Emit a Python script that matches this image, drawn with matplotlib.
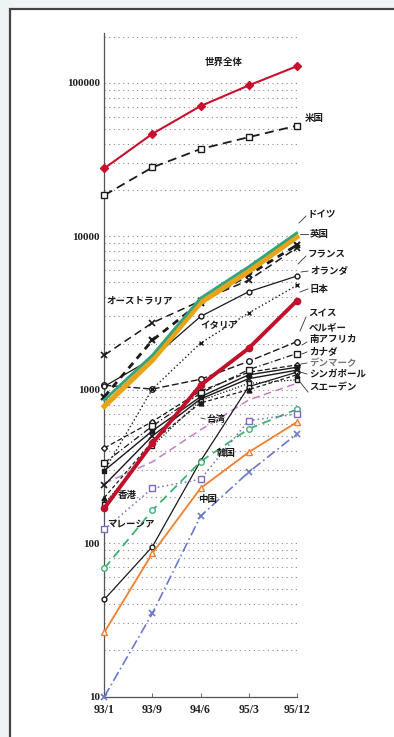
import matplotlib
matplotlib.use("Agg")
import matplotlib.pyplot as plt
from matplotlib.patches import Rectangle
from matplotlib.lines import Line2D
from matplotlib.ticker import FixedLocator, NullFormatter, LogLocator

plt.rcParams['font.family'] = ['Noto Sans CJK JP', 'DejaVu Sans']

# ---------------- data ----------------
periods = ['93/1', '93/9', '94/6', '95/3', '95/12']
world = [27700, 46500, 70500, 96000, 128000]
usa = [18500, 28100, 37000, 44200, 52500]
germany = [857, 1680, 3950, 6320, 10500]
uk = [780, 1560, 3690, 5900, 9900]
france = [900, 2100, 3700, 5600, 8750]
australia = [1680, 2730, 3790, 5170, 8400]
netherlands = [1050, 1600, 3000, 4350, 5500]
italy = [297, 1010, 2010, 3160, 4780]
japan = [169, 448, 1070, 1860, 3790]
switzerland = [1070, 1010, 1170, 1530, 2056]
belgium = [417, 620, 980, 1300, 1450]
canada = [333, 580, 950, 1350, 1720]
denmark = [297, 540, 900, 1250, 1400]
singapore = [239, 500, 870, 1180, 1340]
sweden = [180, 430, 850, 1100, 1160]
hongkong = [198, 460, 820, 1000, 1250]
taiwan = [245, 339, 548, 857, 1100]
korea = [43, 95, 343, 1047, 1300]
south_africa = [68.6, 164, 340, 555, 745]
malaysia = [123, 228, 261, 628, 695]
thailand = [26.3, 86, 228, 391, 614]
china = [10, 34.9, 150, 290, 514]

W, H = 394, 737
fig = plt.figure(figsize=(W / 100, H / 100), dpi=100)
fig.patch.set_facecolor('#eef4f5')


def F(px, py):
    return (px / W, 1 - py / H)


panel = Rectangle(F(9.5, 800), 1.2, (800 - 8.5) / H, transform=fig.transFigure,
                  facecolor='white', edgecolor='#444444', lw=1.6, zorder=0)
fig.add_artist(panel)

ax = fig.add_axes([104.3 / W, (H - 696.7) / H, 192.4 / W, (696.7 - 33.3) / H])
ax.set_facecolor('none')
ax.set_yscale('log')
ax.set_ylim(10, 210000)
ax.set_xlim(0, 4)
x = list(range(len(periods)))

ax.yaxis.set_major_locator(FixedLocator([10, 100, 1000, 10000, 100000]))
ax.yaxis.set_minor_locator(LogLocator(base=10, subs=range(2, 10)))
ax.yaxis.set_minor_formatter(NullFormatter())
ax.set_yticklabels(['10', '100', '1000', '10000', '100000'])
ax.set_xticks(x)
ax.set_xticklabels(periods)
for lab in ax.get_yticklabels() + ax.get_xticklabels():
    lab.set_family(['Liberation Serif', 'DejaVu Serif'])
    lab.set_color('#222222')
    lab.set_fontweight('bold')
for lab in ax.get_yticklabels():
    lab.set_fontsize(8)
for lab in ax.get_xticklabels():
    lab.set_fontsize(8.5)
ax.tick_params(axis='y', which='both', length=0, pad=3)
ax.tick_params(axis='x', direction='in', length=3, width=0.6, pad=5, color='#555555')
ax.grid(True, axis='y', which='both', ls=(0, (1, 3.2)), color='#8a8a8a', lw=0.8)
for s in ['top', 'right']:
    ax.spines[s].set_visible(False)
for s in ['left', 'bottom']:
    ax.spines[s].set_color('#555555')
    ax.spines[s].set_linewidth(0.9)

K = '#1a1a1a'
styles = [
    (world, dict(color='#c8102e', lw=1.5, ls='-', marker='D', ms=4, mfc='#c8102e', mec='#c8102e')),
    (usa, dict(color=K, lw=1.3, ls=(0, (5, 3)), marker='s', ms=5, mfc='white', mec=K)),
    (taiwan, dict(color='#c77ec7', lw=1.1, ls=(0, (5, 3)))),
    (korea, dict(color=K, lw=0.9, ls='-', marker='o', ms=3.5, mfc='white', mec=K)),
    (south_africa, dict(color='#3cb371', lw=1.3, ls=(0, (5, 3)), marker='o', ms=4, mfc='white', mec='#3cb371')),
    (malaysia, dict(color='#7a6cc4', lw=1.1, ls=(0, (1, 2)), marker='s', ms=5, mfc='white', mec='#7a6cc4')),
    (thailand, dict(color='#f07f30', lw=1.3, ls='-', marker='^', ms=5, mfc='white', mec='#f07f30')),
    (china, dict(color='#6a78c8', lw=1.2, ls=(0, (6, 2, 1, 2)), marker='x', ms=5, mew=1.2, mec='#6a78c8')),
    (belgium, dict(color=K, lw=0.9, ls=(0, (4, 2)), marker='D', ms=3, mfc='white', mec=K)),
    (canada, dict(color=K, lw=0.9, ls=(0, (5, 2, 1, 2)), marker='s', ms=4, mfc='white', mec=K)),
    (denmark, dict(color=K, lw=1.0, ls='-', marker='s', ms=3.5, mfc=K, mec=K)),
    (singapore, dict(color=K, lw=1.0, ls='-', marker='x', ms=4, mew=1.2, mec=K)),
    (sweden, dict(color=K, lw=0.9, ls=(0, (1, 1.5)), marker='s', ms=3, mfc='white', mec=K)),
    (hongkong, dict(color=K, lw=0.9, ls=(0, (3, 2)), marker='^', ms=3.5, mfc=K, mec=K)),
    (switzerland, dict(color=K, lw=1.0, ls=(0, (5, 2)), marker='o', ms=4, mfc='white', mec=K)),
    (italy, dict(color=K, lw=1.0, ls=(0, (1, 1.8)), marker='x', ms=3.5, mec=K)),
    (netherlands, dict(color=K, lw=0.9, ls='-', marker='o', ms=3.5, mfc='white', mec=K)),
    (australia, dict(color=K, lw=1.1, ls=(0, (5, 3)), marker='x', ms=5, mew=1.2, mec=K)),
    (france, dict(color=K, lw=2.0, ls=(0, (2.5, 2)), marker='x', ms=5, mew=1.5, mec=K)),
    (japan, dict(color='#c0102a', lw=2.8, ls='-', marker='o', ms=4.5, mfc='#c0102a', mec='#c0102a')),
    (uk, dict(color='#e8a317', lw=3.8, ls='-')),
    (germany, dict(color='#36a37b', lw=2.0, ls='-')),
]
for i, (vals, st) in enumerate(styles):
    ax.plot(x, vals, clip_on=False, zorder=3 + i * 0.01, **st)

# ---------------- labels ----------------
labels = [
    ('世界全体', 205, 62, K), ('米国', 305, 118, K), ('ドイツ', 307, 214, K),
    ('英国', 310, 234, K), ('フランス', 308, 254, K), ('オランダ', 310, 271, K),
    ('日本', 310, 289, K), ('オーストラリア', 106, 300, K), ('イタリア', 200, 325, K),
    ('スイス', 308, 314, K), ('ベルギー', 309, 327, K), ('南アフリカ', 309, 339, K),
    ('カナダ', 309, 352, K), ('デンマーク', 309, 363, '#777777'),
    ('シンガポール', 309, 374, K), ('スエーデン', 309, 387, K),
    ('台湾', 206, 419, K), ('韓国', 217, 453, K), ('香港', 118, 495, K),
    ('中国', 198, 499, K), ('マレーシア', 107, 524, K),
]
for t, px, py, c in labels:
    fig.text(*F(px, py), t, fontsize=6.8, color=c, ha='left', va='center',
             fontweight='bold', zorder=10)

leaders = [
    ((299, 223), (306, 216)), ((300, 234), (308, 234)), ((298, 264), (306, 256)),
    ((301, 272), (308, 271)), ((300, 292), (308, 289)), ((300, 331), (306, 317)),
    ((302, 345), (307, 342)), ((302, 354), (307, 352)), ((301, 364), (307, 363)),
    ((300, 372), (307, 374)), ((300, 382), (308, 392)), ((201, 418), (205, 419)),
]
for (a, b) in leaders:
    p, q = F(*a), F(*b)
    fig.add_artist(Line2D([p[0], q[0]], [p[1], q[1]], transform=fig.transFigure,
                          color='#333333', lw=0.6, zorder=10))

fig.savefig('out.png', dpi=100, facecolor=fig.get_facecolor())
